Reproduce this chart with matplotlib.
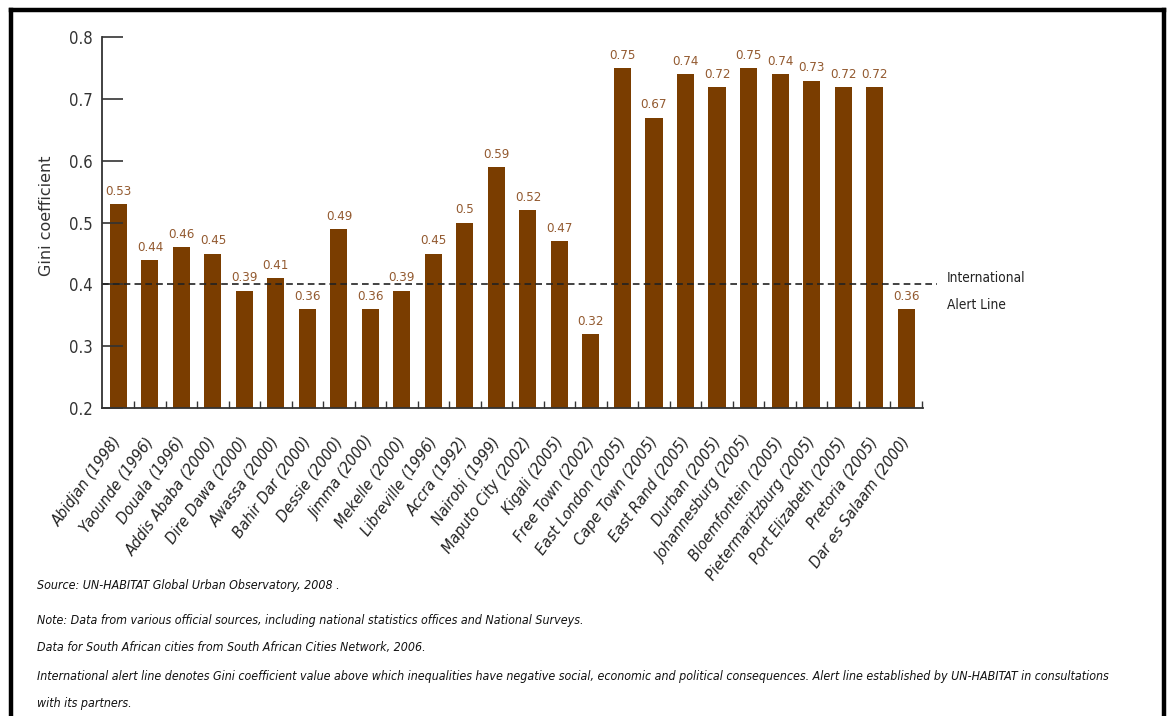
import matplotlib
matplotlib.use("Agg")
import matplotlib.pyplot as plt
from matplotlib.lines import Line2D

plt.rcParams['font.family'] = ['DejaVu Sans']

cities = ["Abidjan (1998)", "Yaounde (1996)", "Douala (1996)", "Addis Ababa (2000)",
          "Dire Dawa (2000)", "Awassa (2000)", "Bahir Dar (2000)", "Dessie (2000)",
          "Jimma (2000)", "Mekelle (2000)", "Libreville (1996)", "Accra (1992)",
          "Nairobi (1999)", "Maputo City (2002)", "Kigali (2005)", "Free Town (2002)",
          "East London (2005)", "Cape Town (2005)", "East Rand (2005)", "Durban (2005)",
          "Johannesburg (2005)", "Bloemfontein (2005)", "Pietermaritzburg (2005)",
          "Port Elizabeth (2005)", "Pretoria (2005)", "Dar es Salaam (2000)"]
gini = [0.53, 0.44, 0.46, 0.45, 0.39, 0.41, 0.36, 0.49, 0.36, 0.39, 0.45, 0.5,
        0.59, 0.52, 0.47, 0.32, 0.75, 0.67, 0.74, 0.72, 0.75, 0.74, 0.73, 0.72,
        0.72, 0.36]
value_labels = ["0.53", "0.44", "0.46", "0.45", "0.39", "0.41", "0.36", "0.49", "0.36",
                "0.39", "0.45", "0.5", "0.59", "0.52", "0.47", "0.32", "0.75", "0.67",
                "0.74", "0.72", "0.75", "0.74", "0.73", "0.72", "0.72", "0.36"]
yticks = [0.2, 0.3, 0.4, 0.5, 0.6, 0.7, 0.8]
alert_line = 0.4
notes = ["Source: UN-HABITAT Global Urban Observatory, 2008 .",
         "Note: Data from various official sources, including national statistics offices and National Surveys.",
         "Data for South African cities from South African Cities Network, 2006.",
         "International alert line denotes Gini coefficient value above which inequalities have negative social, economic and political consequences. Alert line established by UN-HABITAT in consultations",
         "with its partners."]

bar_color = "#7a3d00"
label_color = "#935a30"
dark = "#333333"
narrow = dict(family='DejaVu Sans', stretch='condensed')

fig = plt.figure(figsize=(11.7, 7.16), dpi=100)
ax = fig.add_axes([0.0872, 0.430, 0.702, 0.518])

x = list(range(len(cities)))
ax.bar(x, gini, width=0.54, color=bar_color)

for xi, v, s in zip(x, gini, value_labels):
    ax.text(xi, v + 0.01, s, ha='center', va='bottom', fontsize=9.5, color=label_color,
            **narrow)

ax.set_xlim(-0.52, len(cities) - 0.45)
ax.set_ylim(0.2, 0.8)
ax.set_yticks(yticks)
ax.set_yticklabels([str(t) for t in yticks], fontsize=12, color=dark, **narrow)
ax.tick_params(axis='y', direction='in', length=15, width=1.2, color=dark, pad=7)

# labels under bar centres, small ticks between bars
ax.set_xticks(x)
ax.set_xticklabels(cities, rotation=54, ha='right', va='center', rotation_mode='anchor',
                   fontsize=11.5, style='italic', color="#222222", **narrow)
ax.tick_params(axis='x', which='major', length=0, pad=22)
ax.set_xticks([i + 0.5 for i in x], minor=True)
ax.tick_params(axis='x', which='minor', direction='in', length=5, width=1, color=dark)

for side in ['top', 'right']:
    ax.spines[side].set_visible(False)
for side in ['left', 'bottom']:
    ax.spines[side].set_color(dark)
    ax.spines[side].set_linewidth(1.3)

ax.plot([-0.52, len(cities) - 0.03], [alert_line, alert_line], ls=(0, (4, 2.5)),
        color="#222222", lw=1.2, clip_on=False)
ax.text(len(cities) + 0.3, 0.41, "International", ha='left', va='center',
        fontsize=9.8, color="#222222", **narrow)
ax.text(len(cities) + 0.3, 0.367, "Alert Line", ha='left', va='center',
        fontsize=9.8, color="#222222", **narrow)

ax.set_ylabel("Gini coefficient", fontsize=11.5, color="#333333", labelpad=10)
ax.yaxis.set_label_coords(-0.058, 0.52)

note_y = [0.182, 0.134, 0.095, 0.0545, 0.018]
for yy, line in zip(note_y, notes):
    fig.text(0.032, yy, line, fontsize=8.9, style='italic', color="#111111",
             va='center', **narrow)

# frame round the whole figure
for xs, ys in [([0.0095, 0.0095], [-0.01, 0.986]), ([0.0095, 0.9945], [0.986, 0.986]),
               ([0.9945, 0.9945], [-0.01, 0.986])]:
    fig.add_artist(Line2D(xs, ys, color='black', lw=3.2, transform=fig.transFigure))

fig.savefig("out.png", dpi=100)
